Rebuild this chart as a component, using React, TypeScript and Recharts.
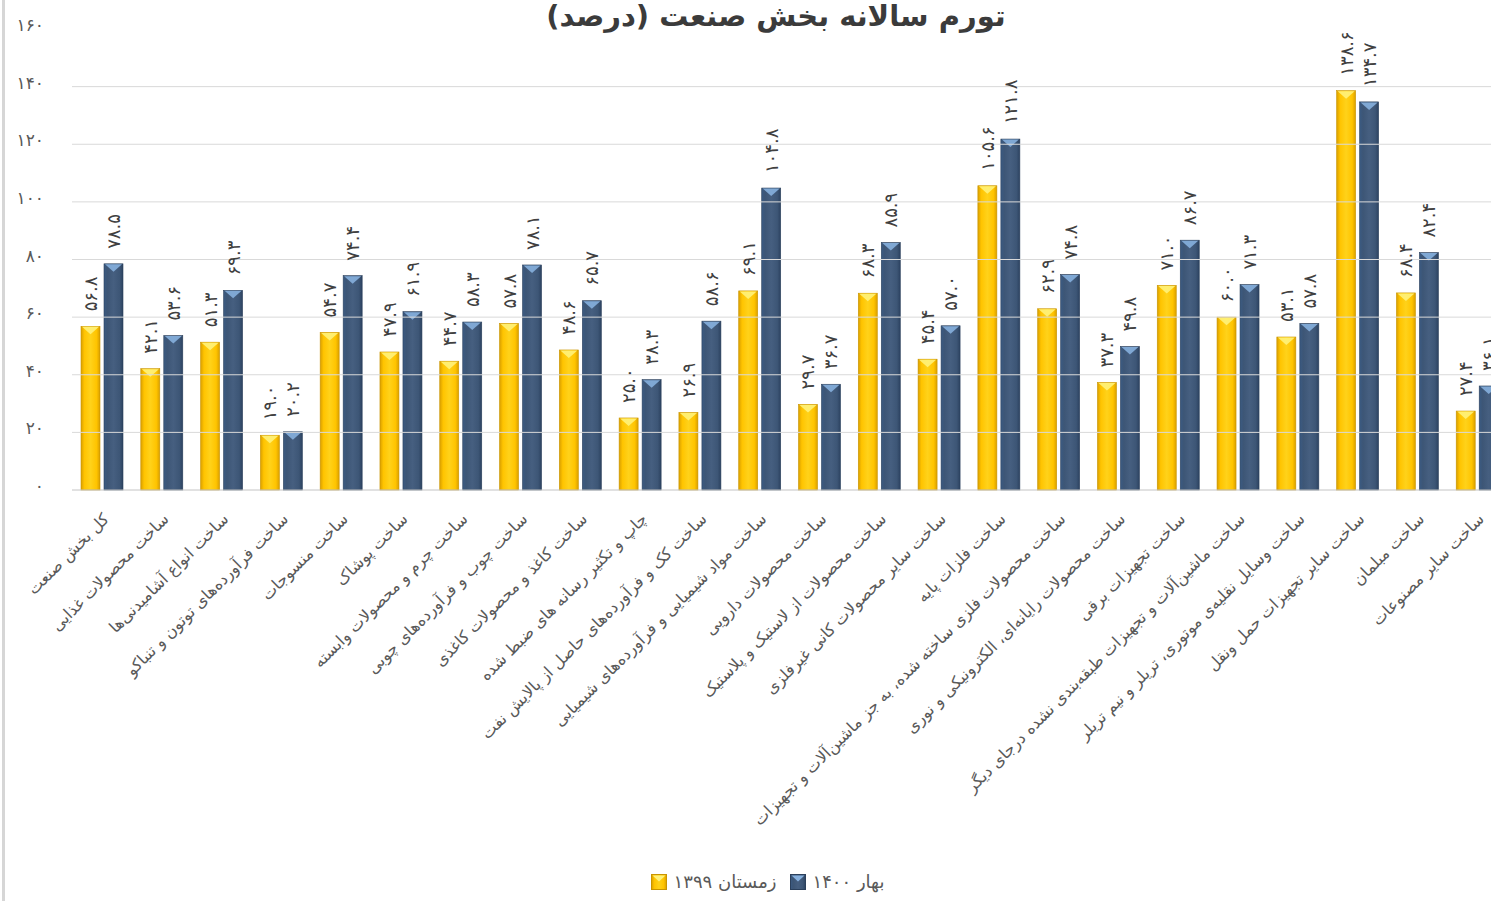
import React from 'react';
import { BarChart, Bar, XAxis, YAxis, ReferenceLine, Legend, LabelList } from 'recharts';

const categories = [
  'کل بخش صنعت',
  'ساخت محصولات غذایی',
  'ساخت انواع آشامیدنی‌ها',
  'ساخت فرآورده‌های توتون و تنباکو',
  'ساخت منسوجات',
  'ساخت پوشاک',
  'ساخت چرم و محصولات وابسته',
  'ساخت چوب و فرآورده‌های چوبی',
  'ساخت کاغذ و محصولات کاغذی',
  'چاپ و تکثیر رسانه های ضبط شده',
  'ساخت کک و فرآورده‌های حاصل از پالایش نفت',
  'ساخت مواد شیمیایی و فرآورده‌های شیمیایی',
  'ساخت محصولات دارویی',
  'ساخت محصولات از لاستیک و پلاستیک',
  'ساخت سایر محصولات کانی غیرفلزی',
  'ساخت فلزات پایه',
  'ساخت محصولات فلزی ساخته شده، به جز ماشین‌آلات و تجهیزات',
  'ساخت محصولات رایانه‌ای، الکترونیکی و نوری',
  'ساخت تجهیزات برقی',
  'ساخت ماشین‌آلات و تجهیزات طبقه‌بندی نشده درجای دیگر',
  'ساخت وسایل نقلیه‌ی موتوری، تریلر و نیم تریلر',
  'ساخت سایر تجهیزات حمل ونقل',
  'ساخت مبلمان',
  'ساخت سایر مصنوعات',
];

const winter1399 = [56.8, 42.1, 51.3, 19.0, 54.7, 47.9, 44.7, 57.8, 48.6, 25.0, 26.9, 69.1, 29.7, 68.3, 45.4, 105.6, 62.9, 37.3, 71.0, 60.0, 53.1, 138.6, 68.4, 27.4];
const spring1400 = [78.5, 53.6, 69.3, 20.2, 74.4, 61.9, 58.3, 78.1, 65.7, 38.3, 58.6, 104.8, 36.7, 85.9, 57.0, 121.8, 74.8, 49.8, 86.7, 71.3, 57.8, 134.7, 82.4, 36.1];

const yTicks = [0, 20, 40, 60, 80, 100, 120, 140, 160];

const seriesNames = { w: 'زمستان ۱۳۹۹', s: 'بهار ۱۴۰۰' };
const title = 'تورم سالانه بخش صنعت (درصد)';

const data = categories.map((name, i) => ({ name, w: winter1399[i], s: spring1400[i] }));

const FONT = '"DejaVu Sans", sans-serif';
const faDigits = '۰۱۲۳۴۵۶۷۸۹';
const toFa = (s: string) => s.replace(/[0-9]/g, (d) => faDigits[Number(d)]);

const palettes: Record<string, { grad: string; tri: string; stroke: string }> = {
  w: { grad: 'url(#yGrad)', tri: '#fff27a', stroke: '#c99500' },
  s: { grad: 'url(#bGrad)', tri: '#86b0de', stroke: '#2b405c' },
};

function BevelBar(props: any) {
  const { x, y, width, height, kind } = props;
  if (!height || height <= 0) return null;
  const p = palettes[kind];
  const th = Math.min(8, height);
  return (
    <g>
      <rect x={x} y={y} width={width} height={height} fill={p.grad} stroke={p.stroke} strokeWidth={0.6} />
      <polygon points={`${x + 1},${y + 0.5} ${x + width - 1},${y + 0.5} ${x + width / 2},${y + th}`} fill={p.tri} opacity={0.9} />
    </g>
  );
}

function CategoryTick(props: any) {
  const { x, y, payload } = props;
  const ax = x + 8;
  const ay = y + 22;
  return (
    <text x={ax} y={ay} transform={`rotate(-45 ${ax} ${ay})`} textAnchor="end" fontSize={16} fill="#595959" fontFamily={FONT}>
      {payload.value}
    </text>
  );
}

function ValueTick(props: any) {
  const { y, payload } = props;
  return (
    <text x={44} y={y - 4} textAnchor="end" dominantBaseline="central" fontSize={17} fill="#595959" fontFamily={FONT}>
      {toFa(String(payload.value))}
    </text>
  );
}

function renderValue(props: any) {
  const { x, y, width, value } = props;
  const cx = Number(x) + Number(width) / 2;
  const cy = Number(y) - 15;
  return (
    <text x={cx} y={cy} transform={`rotate(-90 ${cx} ${cy})`} textAnchor="start" dominantBaseline="central" fontSize={18} fill="#404040" fontFamily={FONT}>
      {toFa(Number(value).toFixed(1))}
    </text>
  );
}

function LegendIcon({ kind }: { kind: string }) {
  const p = palettes[kind];
  return (
    <svg width={16} height={16} style={{ display: 'block' }}>
      <rect x={0.5} y={0.5} width={15} height={15} fill={p.grad} stroke={p.stroke} />
      <polygon points="1.5,1.5 14.5,1.5 8,7.5" fill={p.tri} />
    </svg>
  );
}

function renderLegend() {
  return (
    <div style={{ display: 'flex', justifyContent: 'center', alignItems: 'center', gap: 7, paddingLeft: 28, fontFamily: FONT, fontSize: 18, color: '#595959' }}>
      <LegendIcon kind="w" />
      <span style={{ marginRight: 6 }}>{seriesNames.w}</span>
      <LegendIcon kind="s" />
      <span>{seriesNames.s}</span>
    </div>
  );
}

export default function App() {
  return (
    <div style={{ position: 'fixed', left: 0, top: 0, width: 1491, height: 901, overflow: 'hidden', background: '#fff' }}>
      <div style={{ position: 'absolute', left: 2, top: 0, width: 3, height: 901, background: '#d6d6d6' }} />
      <div style={{ position: 'absolute', left: 776, top: -4, transform: 'translateX(-50%)', whiteSpace: 'nowrap', fontFamily: FONT, fontWeight: 'bold', fontSize: 29, lineHeight: '40px', color: '#3b3b3b', zIndex: 2 }}>
        {title}
      </div>
      <BarChart width={1507} height={901} data={data} margin={{ top: 29, right: 0, left: 0, bottom: 0 }} barSize={19} barGap={4}>
        <defs>
          <linearGradient id="yGrad" x1="0" y1="0" x2="1" y2="0">
            <stop offset="0%" stopColor="#d99f00" />
            <stop offset="18%" stopColor="#ffc400" />
            <stop offset="50%" stopColor="#ffd21a" />
            <stop offset="82%" stopColor="#ffc400" />
            <stop offset="100%" stopColor="#d99f00" />
          </linearGradient>
          <linearGradient id="bGrad" x1="0" y1="0" x2="1" y2="0">
            <stop offset="0%" stopColor="#3a5a82" />
            <stop offset="18%" stopColor="#3d5676" />
            <stop offset="50%" stopColor="#465f80" />
            <stop offset="82%" stopColor="#3d5676" />
            <stop offset="100%" stopColor="#2c4260" />
          </linearGradient>
        </defs>
        {yTicks.filter((t) => t > 0 && t < 160).map((t) => (
          <ReferenceLine key={t} y={t} stroke="#d9d9d9" strokeWidth={1} ifOverflow="extendDomain" />
        ))}
        <XAxis dataKey="name" interval={0} tickLine={false} axisLine={{ stroke: '#c4c4c4' }} height={381} tick={<CategoryTick />} />
        <YAxis domain={[0, 160]} ticks={yTicks} width={72} axisLine={false} tickLine={false} tick={<ValueTick />} />
        <Legend verticalAlign="bottom" height={30} content={renderLegend} />
        <Bar dataKey="w" name={seriesNames.w} isAnimationActive={false} shape={(p: any) => <BevelBar {...p} kind="w" />}>
          <LabelList dataKey="w" content={renderValue} />
        </Bar>
        <Bar dataKey="s" name={seriesNames.s} isAnimationActive={false} shape={(p: any) => <BevelBar {...p} kind="s" />}>
          <LabelList dataKey="s" content={renderValue} />
        </Bar>
      </BarChart>
    </div>
  );
}
